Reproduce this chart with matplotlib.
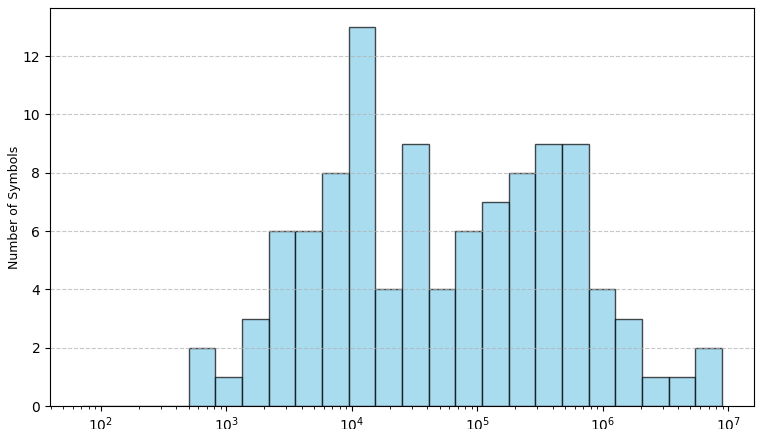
import matplotlib.pyplot as plt
import numpy as np

# Histogram of symbol counts, log-spaced bins
log_lo = 1.85
log_hi = 6.95
n_bins = 24
counts = [0, 0, 0, 0, 2, 1, 3, 6, 6, 8, 13, 4, 9, 4, 6, 7, 8, 9, 9, 4, 3, 1, 1, 2]

edges = np.logspace(log_lo, log_hi, n_bins + 1)
widths = np.diff(edges)

fig = plt.figure(figsize=(7.61, 4.29), dpi=100)
ax = fig.add_axes([0.0657, 0.0536, 0.9251, 0.9278])

ax.bar(edges[:-1], counts, width=widths, align="edge",
       color="skyblue", edgecolor="black", alpha=0.7, linewidth=1)
ax.set_xscale("log")
ax.set_ylabel("Number of Symbols", fontsize=9, labelpad=1)
ax.grid(axis="y", linestyle="--", alpha=0.7)

fig.savefig("out.png", dpi=100)
